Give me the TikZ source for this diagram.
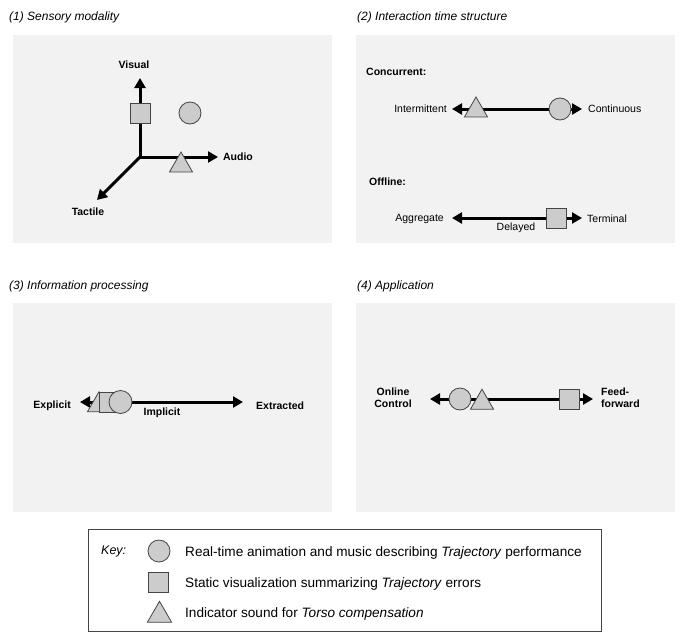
\documentclass[tikz,border=0pt]{standalone}
\usepackage{fontspec}
\setmainfont{Liberation Sans}
\usetikzlibrary{arrows.meta,shapes.geometric}
\definecolor{panelbg}{HTML}{F2F2F2}
\definecolor{shapefill}{HTML}{CCCCCC}
\definecolor{shapeline}{HTML}{444444}
\begin{document}
\begin{tikzpicture}[x=1pt,y=-1pt,
  panel/.style={fill=panelbg,draw=none},
  title/.style={font=\fontsize{12}{14}\selectfont\itshape,anchor=west,inner sep=0pt},
  lab/.style={font=\fontsize{10.5}{12}\selectfont\bfseries,inner sep=0pt},
  labn/.style={font=\fontsize{10.5}{12}\selectfont,inner sep=0pt},
  axis/.style={line width=3pt,-{Triangle[length=10pt,width=11pt]}},
  sqr/.style={draw=shapeline,fill=shapefill,line width=0.8pt,minimum size=20pt,inner sep=0pt,shape=rectangle},
  circ/.style={draw=shapeline,fill=shapefill,line width=0.8pt,minimum size=22pt,inner sep=0pt,shape=circle},
  tri/.style={draw=shapeline,fill=shapefill,line width=0.8pt,regular polygon,regular polygon sides=3,minimum size=26.6pt,inner sep=0pt},
  keytext/.style={font=\fontsize{13.6}{16}\selectfont,anchor=west,inner sep=0pt}
]
\useasboundingbox (0,0) rectangle (685,637);
% panels
\fill[panel] (13,35) rectangle (332,243);
\fill[panel] (356,35) rectangle (675,243);
\fill[panel] (13,303) rectangle (332,512);
\fill[panel] (356,303) rectangle (675,512);
% titles
\node[title] (t1) at (9,17) {(1) Sensory modality};
\node[title] (t2) at (357,17) {(2) Interaction time structure};
\node[title] (t3) at (9,286) {(3) Information processing};
\node[title] (t4) at (357,286) {(4) Application};

% ---- panel 1
\coordinate (o1) at (140,157);
\coordinate (v1) at (140,78);
\coordinate (a1) at (218,157);
\coordinate (d1) at (97,200);
\draw[axis] (o1) -- (v1);
\draw[axis] (o1) -- (a1);
\draw[axis] (o1) -- (d1);
\node[sqr] (s1) at (140,113) {};
\node[circ] (c1) at (190,113) {};
\node[tri] (tr1) at (181,165.3) {};
\node[lab] (visual) at (134,65) {Visual};
\node[lab] (audio) at (238,157) {Audio};
\node[lab] (tactile) at (88,212) {Tactile};

% ---- panel 2
\node[lab,anchor=west] (conc) at (366,72) {Concurrent:};
\coordinate (p2l) at (452,109);
\coordinate (p2r) at (582,109);
\coordinate (p2m) at (517,109);
\draw[axis] (p2m) -- (p2l);
\draw[axis] (p2m) -- (p2r);
\node[tri] (tr2) at (476,110.3) {};
\node[circ] (c2) at (560,109) {};
\node[labn,anchor=east] (inter) at (447,109) {Intermittent};
\node[labn,anchor=west] (cont) at (588,109) {Continuous};

\node[lab,anchor=west] (off) at (369,182) {Offline:};
\coordinate (p2bl) at (452,218);
\coordinate (p2br) at (582,218);
\coordinate (p2bm) at (517,218);
\draw[axis] (p2bm) -- (p2bl);
\draw[axis] (p2bm) -- (p2br);
\node[sqr] (s2) at (556,218) {};
\node[labn,anchor=east] (aggr) at (444,219) {Aggregate};
\node[labn,anchor=west] (term) at (587,219) {Terminal};
\node[labn] (delay) at (516,228) {Delayed};

% ---- panel 3
\coordinate (p3l) at (80,402);
\coordinate (p3r) at (243,402);
\coordinate (p3m) at (130,402);
\draw[axis] (p3m) -- (p3l);
\draw[axis] (p3m) -- (p3r);
\node[tri] (tr3) at (99,405) {};
\node[sqr] (s3) at (109.5,402) {};
\node[circ,minimum size=23pt] (c3) at (120.5,402) {};
\node[lab,anchor=east] (expl) at (71,406) {Explicit};
\node[lab,anchor=west] (extr) at (256,406) {Extracted};
\node[lab] (impl) at (162,413) {Implicit};

% ---- panel 4
\coordinate (p4l) at (430,399);
\coordinate (p4r) at (593,399);
\coordinate (p4m) at (510,399);
\draw[axis] (p4m) -- (p4l);
\draw[axis] (p4m) -- (p4r);
\node[circ] (c4) at (460,399) {};
\node[tri] (tr4) at (482,402.5) {};
\node[sqr] (s4) at (569,399) {};
\node[lab,align=center] (online) at (393,398) {Online\\Control};
\node[lab,align=left,anchor=west] (feed) at (601,398) {Feed-\\forward};

% ---- key
\draw[draw=shapeline,line width=0.9pt] (88,529) rectangle (601,631);
\node[font=\fontsize{12.5}{14}\selectfont\itshape,anchor=west,inner sep=0pt] (key) at (101,551) {Key:};
\node[circ] (kc) at (159,551) {};
\node[sqr] (ks) at (158,582.5) {};
\node[tri,minimum size=28pt] (kt) at (159.5,615.3) {};
\node[keytext] (k1) at (185,553) {Real-time animation and music describing \textit{Trajectory} performance};
\node[keytext] (k2) at (185,584) {Static visualization summarizing \textit{Trajectory} errors};
\node[keytext] (k3) at (185,614) {Indicator sound for \textit{Torso compensation}};
\end{tikzpicture}
\end{document}
